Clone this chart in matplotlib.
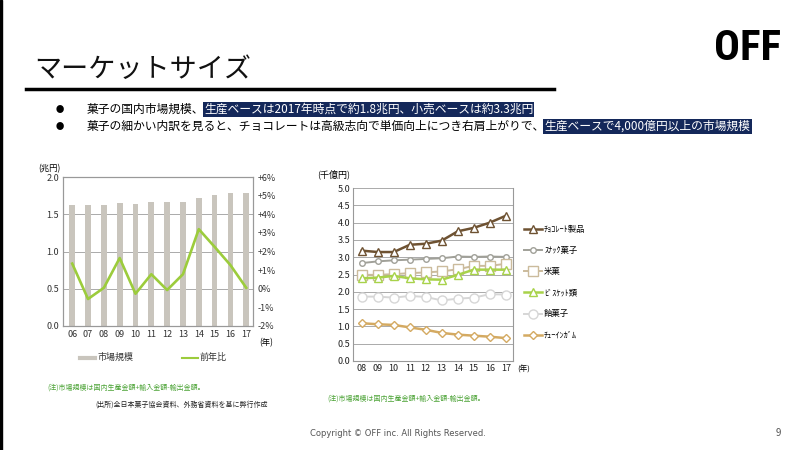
import matplotlib
matplotlib.use('Agg')
import matplotlib.pyplot as plt
from matplotlib.lines import Line2D
from matplotlib.patches import Rectangle

plt.rcParams['font.family'] = ['Noto Sans CJK JP', 'DejaVu Sans']

# left chart: market size (trillion yen) and YoY change (%)
years_l = ['06', '07', '08', '09', '10', '11', '12', '13', '14', '15', '16', '17']
market = [1.63, 1.62, 1.62, 1.65, 1.64, 1.66, 1.66, 1.67, 1.72, 1.76, 1.78, 1.78]
yoy = [1.35, -0.55, 0.05, 1.65, -0.27, 0.78, -0.07, 0.78, 3.2, 2.25, 1.27, 0.05]

# right chart: by category (100 billion yen)
years_r = ['08', '09', '10', '11', '12', '13', '14', '15', '16', '17']
choco = [3.19, 3.15, 3.15, 3.36, 3.39, 3.48, 3.75, 3.85, 4.00, 4.20]
snack = [2.83, 2.88, 2.91, 2.93, 2.95, 2.97, 3.02, 3.01, 3.02, 3.01]
rice = [2.49, 2.49, 2.51, 2.54, 2.56, 2.59, 2.65, 2.75, 2.75, 2.81]
biscuit = [2.39, 2.41, 2.46, 2.39, 2.36, 2.35, 2.49, 2.64, 2.64, 2.64]
candy = [1.86, 1.86, 1.83, 1.88, 1.85, 1.75, 1.80, 1.83, 1.93, 1.92]
gum = [1.09, 1.06, 1.04, 0.97, 0.90, 0.81, 0.76, 0.73, 0.70, 0.66]
series_names = ['ﾁｮｺﾚｰﾄ製品', 'ｽﾅｯｸ菓子', '米菓', 'ﾋﾞｽｹｯﾄ類', '飴菓子', 'ﾁｭｰｲﾝｶﾞﾑ']

fig = plt.figure(figsize=(8, 4.5), dpi=100)
fig.patch.set_facecolor('white')

# slide decorations
fig.patches.append(Rectangle((0, 0), 0.003, 1, transform=fig.transFigure, color='black'))
fig.text(0.043, 0.845, 'マーケットサイズ', fontsize=19.5, color='#111111', va='center')
fig.add_artist(Line2D([0.032, 0.693], [0.803, 0.803], transform=fig.transFigure, color='black', lw=2.5))
fig.text(0.934, 0.893, 'OFF', fontsize=31, fontweight='bold', color='black',
         ha='center', va='center', family=['Roboto Condensed', 'Roboto'])

hl = dict(boxstyle='square,pad=0.1', fc='#14285a', ec='none')
bullets = [('菓子の国内市場規模、', '生産ベースは2017年時点で約1.8兆円、小売ベースは約3.3兆円'),
           ('菓子の細かい内訳を見ると、チョコレートは高級志向で単価向上につき右肩上がりで、', '生産ベースで4,000億円以上の市場規模')]
for i, (plain, marked) in enumerate(bullets):
    y = 0.757 - i * 0.038
    fig.text(0.075, y, '●', fontsize=6, va='center', ha='center')
    t1 = fig.text(0.108, y, plain, fontsize=8.5, va='center')
    fig.add_artist(plt.Annotation(marked, xy=(1, 0.5), xycoords=t1, va='center', ha='left',
                                  fontsize=8.5, color='white', bbox=hl))

# left chart
axl = fig.add_axes([0.079, 0.2756, 0.2375, 0.331])
xl = range(len(years_l))
axl.bar(xl, market, width=0.36, color='#c9c5bd', zorder=2)
axl.set_ylim(0, 2.0)
axl.set_yticks([0, 0.5, 1.0, 1.5, 2.0])
axl.set_yticklabels(['0.0', '0.5', '1.0', '1.5', '2.0'])
axl.set_xlim(-0.57, 11.44)
axl.set_xticks(list(xl))
axl.set_xticklabels(years_l)
axl.grid(axis='y', color='#aaaaaa', lw=0.7, zorder=0)
axr2 = axl.twinx()
axr2.plot(xl, yoy, color='#9ccc3c', lw=1.9, zorder=3)
axr2.set_ylim(-2, 6)
axr2.set_yticks(range(-2, 7))
axr2.set_yticklabels(['-2%', '-1%', '0%', '+1%', '+2%', '+3%', '+4%', '+5%', '+6%'])
for a in (axl, axr2):
    a.tick_params(length=0, labelsize=6.5, pad=3, colors='#333333')
    for s in a.spines.values():
        s.set_color('#999999')
        s.set_linewidth(0.8)
axl.text(-0.13, 1.04, '(兆円)', transform=axl.transAxes, fontsize=6, ha='left')
axl.text(1.03, -0.13, '(年)', transform=axl.transAxes, fontsize=6, ha='left')

fig.add_artist(Line2D([0.1, 0.119], [0.205, 0.205], transform=fig.transFigure, color='#c9c5bd', lw=3))
fig.text(0.122, 0.205, '市場規模', fontsize=6.5, va='center', color='#333333')
fig.add_artist(Line2D([0.227, 0.247], [0.205, 0.205], transform=fig.transFigure, color='#9ccc3c', lw=1.5))
fig.text(0.249, 0.205, '前年比', fontsize=6.5, va='center', color='#333333')
fig.text(0.059, 0.138, '(注)市場規模は国内生産金額+輸入金額-輸出金額。', fontsize=5, color='#4aa234', va='center')
fig.text(0.119, 0.1, '(出所)全日本菓子協会資料、外務省資料を基に弊行作成', fontsize=5, color='#222222', va='center')

# right chart
axc = fig.add_axes([0.441, 0.198, 0.2, 0.384])
xr = range(len(years_r))
styles = [
    (choco, '#6e5232', '^', 6, 1.8),
    (snack, '#a0a098', 'o', 4, 1.4),
    (rice, '#cbbb9c', 's', 6.5, 1.4),
    (biscuit, '#a8d24a', '^', 6, 1.8),
    (candy, '#d6d6d6', 'o', 6.5, 1.4),
    (gum, '#d4aa62', 'D', 4, 1.8),
]
handles = []
for (vals, col, mk, ms, lw), name in zip(styles, series_names):
    h, = axc.plot(xr, vals, color=col, marker=mk, ms=ms, lw=lw, mfc='white', mec=col, mew=1.0,
                  label=name, zorder=3)
    handles.append(h)
axc.set_ylim(0, 5.0)
axc.set_yticks([i * 0.5 for i in range(11)])
axc.set_yticklabels(['%.1f' % (i * 0.5) for i in range(11)])
axc.set_xlim(-0.56, 9.44)
axc.set_xticks(list(xr))
axc.set_xticklabels(years_r)
axc.grid(axis='y', color='#aaaaaa', lw=0.7, zorder=0)
axc.tick_params(length=0, labelsize=6.5, pad=2, colors='#222222')
for s in axc.spines.values():
    s.set_color('#999999')
    s.set_linewidth(0.8)
axc.spines['top'].set_visible(False)
axc.text(-0.22, 1.08, '(千億円)', transform=axc.transAxes, fontsize=6.5, ha='left', va='center')
axc.text(1.03, -0.05, '(年)', transform=axc.transAxes, fontsize=5.5, ha='left', va='center')
axc.legend(handles=handles, loc='upper left', bbox_to_anchor=(1.05, 0.805), frameon=False,
           fontsize=6, handlelength=2.2, labelspacing=1.45, handletextpad=0.2, borderaxespad=0)
fig.text(0.409, 0.115, '(注)市場規模は国内生産金額+輸入金額-輸出金額。', fontsize=5, color='#4aa234', va='center')

# footer
fig.text(0.497, 0.037, 'Copyright © OFF inc. All Rights Reserved.', fontsize=6, color='#555555',
         ha='center', va='center', family=['DejaVu Sans'])
fig.text(0.973, 0.037, '9', fontsize=7, color='#555555', ha='center', va='center')

fig.savefig('out.png', dpi=100)
